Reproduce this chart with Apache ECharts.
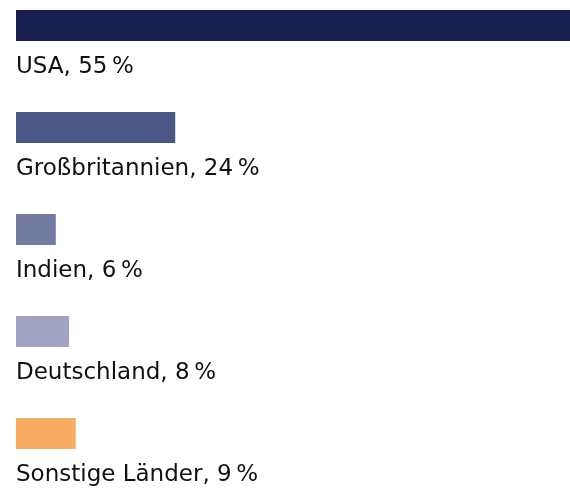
<!DOCTYPE html>
<html>
<head>
<meta charset="utf-8">
<script src="https://cdn.jsdelivr.net/npm/echarts@6/dist/echarts.min.js"></script>
<style>
  html, body { margin: 0; padding: 0; background: #fff; }
  #chart { width: 570px; height: 489px; }
</style>
</head>
<body>
<div id="chart"></div>
<script>
// Anteile nach Land
const countries = ['USA', 'Großbritannien', 'Indien', 'Deutschland', 'Sonstige Länder'];
const shares = [55, 24, 6, 8, 9];
// Balkenlängen (USA-Balken läuft über die volle Breite)
const barLengths = [83.5, 24, 6, 8, 9];
const colors = ['#181e50', '#4a5784', '#737ba1', '#a3a3c3', '#f8ad63'];

const chart = echarts.init(document.getElementById('chart'));

chart.setOption({
    animation: false,
    grid: { left: 16, right: 0, top: -25.5, height: 510, outerBoundsMode: 'none' },
    xAxis: {
        type: 'value',
        min: 0,
        max: 83.5,
        show: false
    },
    yAxis: {
        type: 'category',
        inverse: true,
        data: countries,
        show: false
    },
    series: [{
        type: 'bar',
        barWidth: 31,
        data: barLengths.map((v, i) => ({
            value: v,
            itemStyle: { color: colors[i] }
        })),
        label: {
            show: true,
            position: [0, 57],
            verticalAlign: 'middle',
            align: 'left',
            fontFamily: 'DejaVu Sans',
            fontSize: 23,
            color: '#111',
            formatter: p => countries[p.dataIndex] + ', ' + shares[p.dataIndex] + '\u2009%'
        }
    }]
});
</script>
</body>
</html>
